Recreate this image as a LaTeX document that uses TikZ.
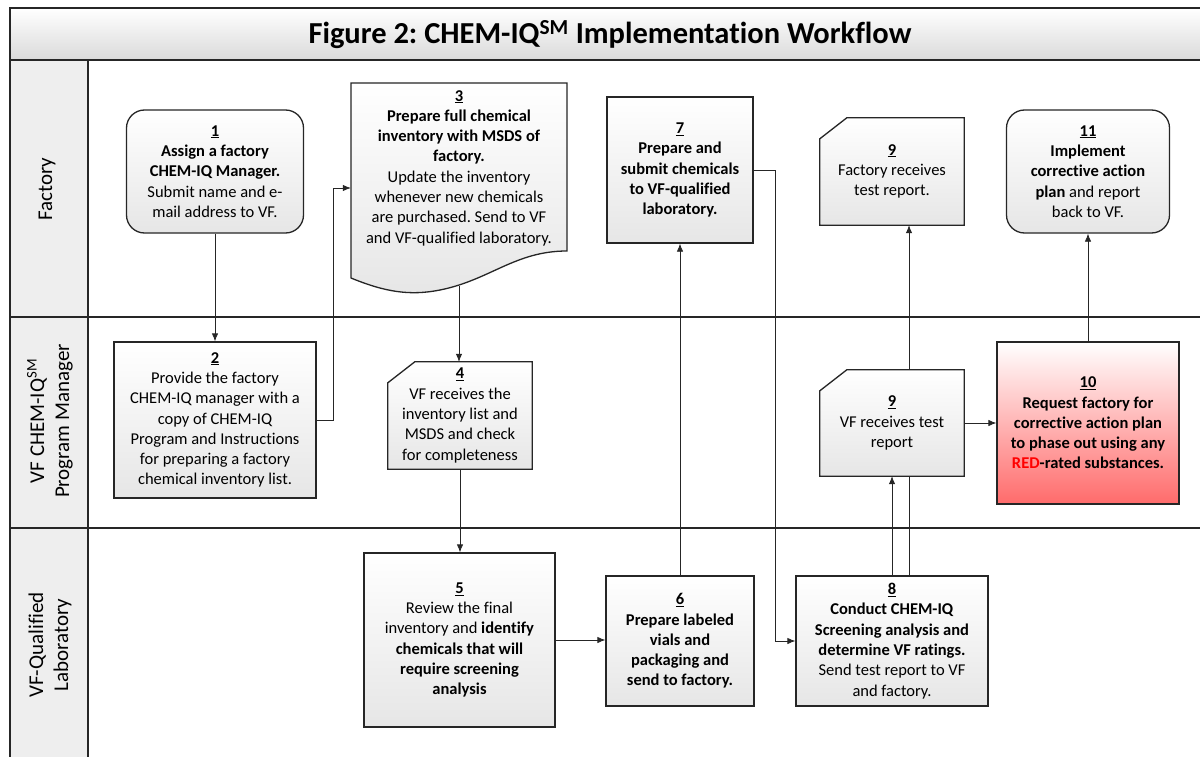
\documentclass[tikz,border=0pt]{standalone}
\usepackage{fontspec}
\setmainfont{Carlito}[Ligatures=NoCommon]
\usepackage{tikz}
\usetikzlibrary{arrows.meta,backgrounds}
\frenchspacing
\definecolor{boxline}{HTML}{262626}
\definecolor{boxshade}{HTML}{E6E6E6}
\definecolor{titleshade}{HTML}{DADADA}
\definecolor{lanefill}{HTML}{EEEEEE}
\definecolor{redrate}{HTML}{FF6B6B}
\definecolor{redword}{HTML}{FF0000}

\begin{document}
\begin{tikzpicture}[x=1pt,y=-1pt,
  boxfill/.style={draw=boxline,line width=1.3pt,top color=white,bottom color=boxshade},
  steptext/.style={align=center,inner sep=0pt,font=\fontsize{16.5}{20.3}\selectfont},
  stepbox/.style={boxfill,steptext},
  roundbox/.style={stepbox,rounded corners=18pt},
  flow/.style={draw=black!85,line width=0.8pt,-{Latex[length=8pt,width=6.5pt]}},
  laneline/.style={draw=boxline,line width=1.6pt},
  lanelabel/.style={rotate=90,align=center,font=\fontsize{21}{25}\selectfont}]
  \useasboundingbox (0,0) rectangle (1200,757);

  % title band
  \shade[top color=white,bottom color=titleshade,draw=boxline,line width=1.3pt] (10,8) rectangle (1203,60);
  \node[font=\fontsize{30.5}{34}\selectfont\bfseries] (title) at (610,35) {Figure 2: CHEM-IQ\textsuperscript{SM} Implementation Workflow};

  % lanes
  \fill[lanefill] (10,60) rectangle (88,760);
  \draw[laneline] (10,60) -- (1203,60);
  \draw[laneline] (10,317) -- (1203,317);
  \draw[laneline] (10,528) -- (1203,528);
  \draw[laneline] (10,8) -- (10,760);
  \draw[laneline] (88,60) -- (88,760);
  \node[lanelabel] (lfactory) at (47,189) {Factory};
  \node[lanelabel] (lmanager) at (50,421) {VF CHEM-IQ\textsuperscript{SM}\\Program Manager};
  \node[lanelabel] (llab) at (50,645) {VF-Qualified\\Laboratory};

  % factory steps
  \node[roundbox,minimum width=177pt,minimum height=123pt] (n1) at (215,171.5)
    {\underline{\textbf{1}}\\\textbf{Assign a factory}\\\textbf{CHEM-IQ Manager.}\\Submit name and e-\\mail address to VF.};
  \node[steptext,minimum width=216pt,minimum height=170pt] (n3) at (459,168)
    {\underline{\textbf{3}}\\\textbf{Prepare full chemical}\\\textbf{inventory with MSDS of}\\\textbf{factory.}\\Update the inventory\\whenever new chemicals\\are purchased. Send to VF\\and VF-qualified laboratory.};
  \coordinate (n3tail) at (459,286);
  \node[stepbox,minimum width=146pt,minimum height=146pt] (n7) at (680,170)
    {\underline{\textbf{7}}\\\textbf{Prepare and}\\\textbf{submit chemicals}\\\textbf{to VF-qualified}\\\textbf{laboratory.}};
  \node[steptext,minimum width=144pt,minimum height=107pt] (n9f) at (892,171.5)
    {\underline{\textbf{9}}\\Factory receives\\test report.};
  \node[roundbox,minimum width=163pt,minimum height=123pt] (n11) at (1088,171.5)
    {\underline{\textbf{11}}\\\textbf{Implement}\\\textbf{corrective action}\\\textbf{plan} and report\\back to VF.};

  % program manager steps
  \node[stepbox,minimum width=202pt,minimum height=156pt] (n2) at (215,420)
    {\underline{\textbf{2}}\\Provide the factory\\CHEM-IQ manager with a\\copy of CHEM-IQ\\Program and Instructions\\for preparing a factory\\chemical inventory list.};
  \node[steptext,minimum width=144pt,minimum height=107pt] (n4) at (460,415.5)
    {\underline{\textbf{4}}\\VF receives the\\inventory list and\\MSDS and check\\for completeness};
  \node[steptext,minimum width=144pt,minimum height=106pt] (n9v) at (892,423)
    {\underline{\textbf{9}}\\VF receives test\\report};
  \node[stepbox,bottom color=redrate,minimum width=182pt,minimum height=162pt] (n10) at (1088,423)
    {\underline{\textbf{10}}\\\textbf{Request factory for}\\\textbf{corrective action plan}\\\textbf{to phase out using any}\\\textbf{\textcolor{redword}{RED}-rated substances.}};

  % laboratory steps
  \node[stepbox,minimum width=191pt,minimum height=174pt] (n5) at (459.5,640)
    {\underline{\textbf{5}}\\Review the final\\inventory and \textbf{identify}\\\textbf{chemicals that will}\\\textbf{require screening}\\\textbf{analysis}};
  \node[stepbox,minimum width=148pt,minimum height=130pt] (n6) at (680,641)
    {\underline{\textbf{6}}\\\textbf{Prepare labeled}\\\textbf{vials and}\\\textbf{packaging and}\\\textbf{send to factory.}};
  \node[stepbox,minimum width=192pt,minimum height=130pt] (n8) at (892,641)
    {\underline{\textbf{8}}\\\textbf{Conduct CHEM-IQ}\\\textbf{Screening analysis and}\\\textbf{determine VF ratings.}\\Send test report to VF\\and factory.};

  % shapes behind the text
  \begin{scope}[on background layer]
    \draw[flow] ([xshift=17pt]n8.north) -- ([xshift=17pt]n8.north |- n9f.south);
    \shade[boxfill] (351,83) -- (567,83) -- (567,251) .. controls (515,251) and (490,280) .. (440,290)
      .. controls (410,296) and (385,292) .. (351,278) -- cycle;
    \foreach \n in {n4,n9f,n9v}
      \shade[boxfill] ([xshift=27pt]\n.north west) -- (\n.north east) -- (\n.south east)
        -- (\n.south west) -- ([yshift=-21pt]\n.north west) -- cycle;
  \end{scope}

  % connectors
  \draw[flow] (n1.south) -- (n1.south |- n2.north);
  \draw[flow] (n2.east) -- ++(17,0) |- ([yshift=-20pt]n3.west);
  \draw[flow] (n3tail) -- (n3tail |- n4.north);
  \draw[flow] (n4.south) -- (n4.south |- n5.north);
  \draw[flow] (n5.east) -- (n5.east -| n6.west);
  \draw[flow] (n6.north) -- (n7.south);
  \draw[flow] (n7.east) -- ++(22,0) |- (n8.west);
  \draw[flow] (n8.north) -- (n9v.south);
  \draw[flow] (n9v.east) -- (n10.west);
  \draw[flow] (n10.north) -- (n11.south);
\end{tikzpicture}
\end{document}
